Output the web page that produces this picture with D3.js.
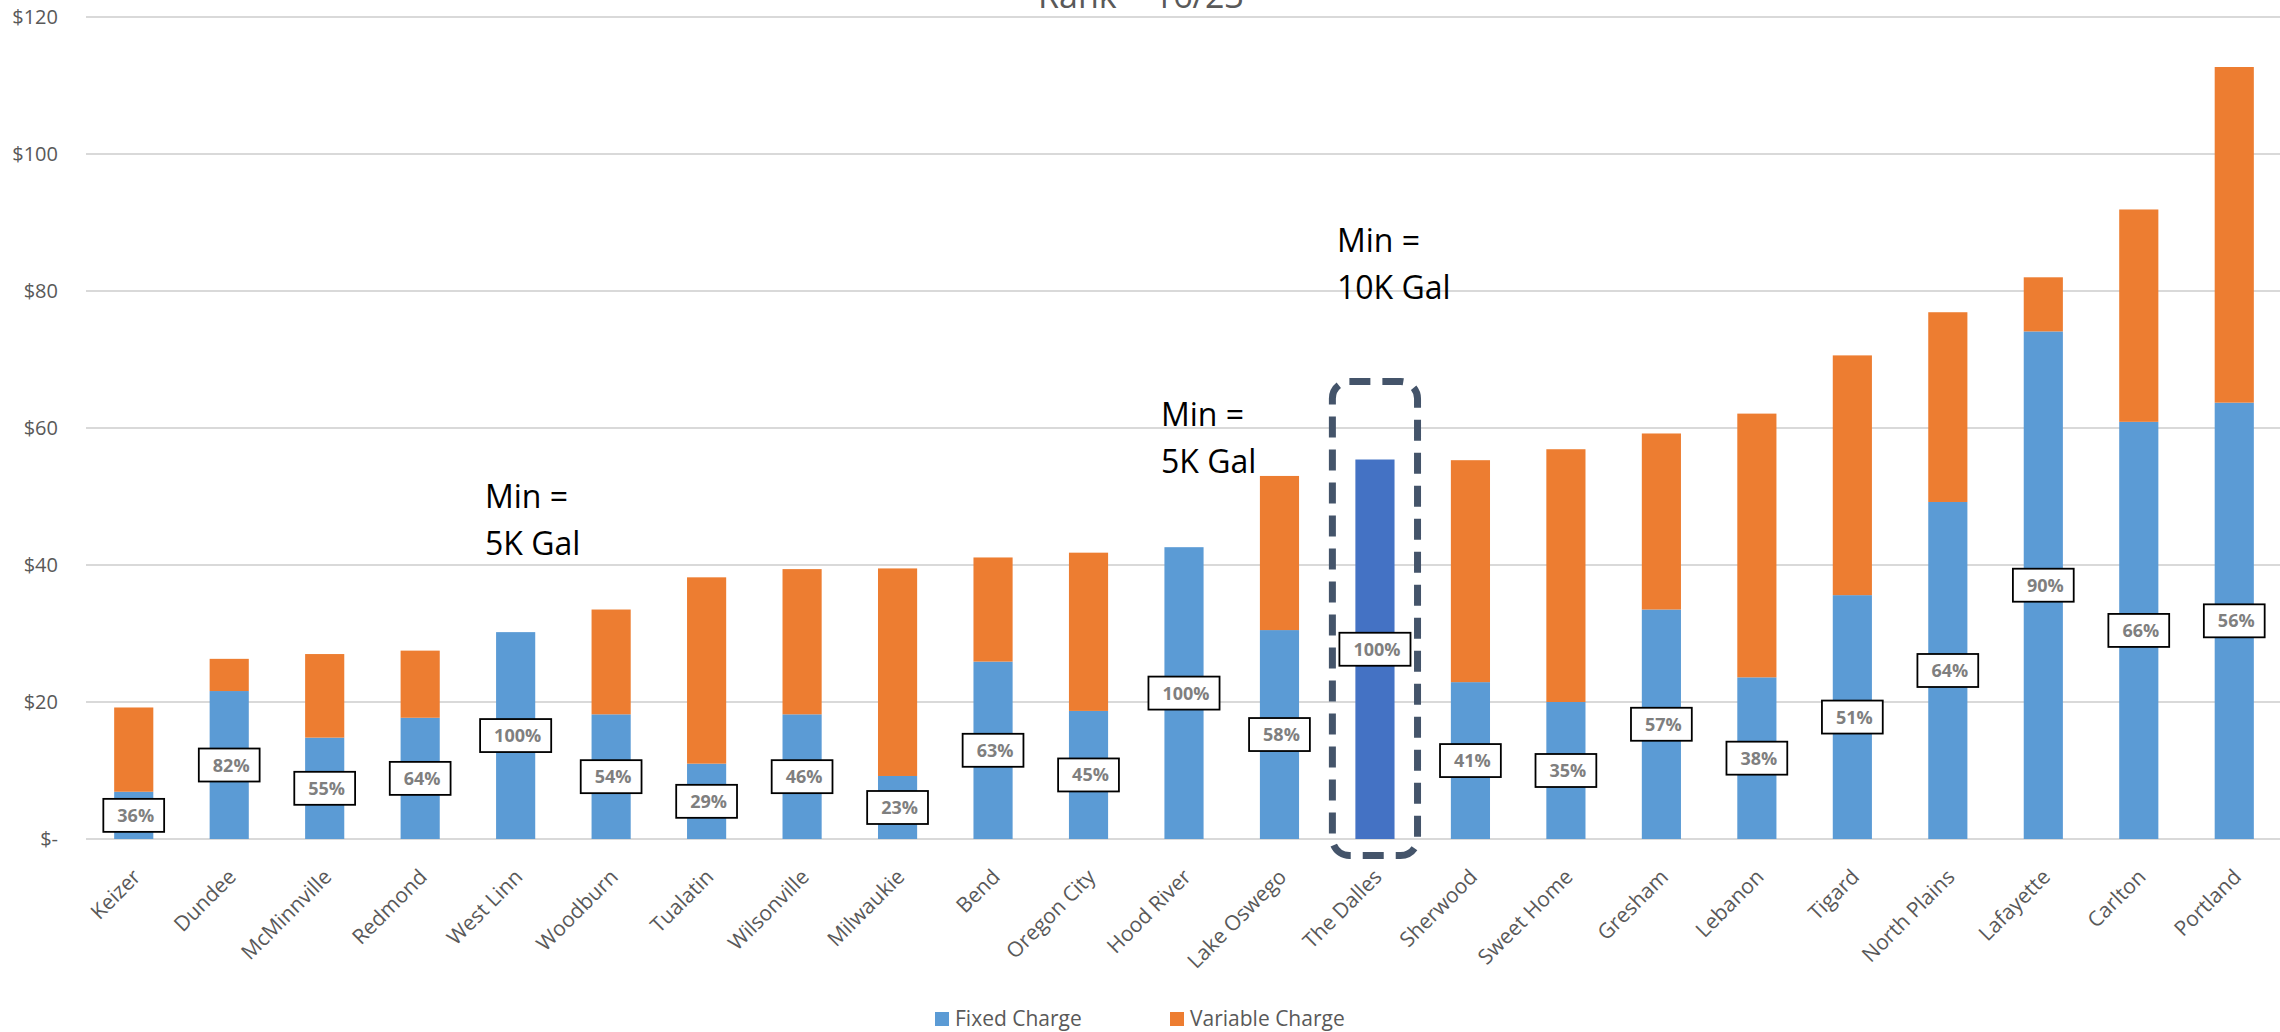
<!DOCTYPE html>
<html>
<head>
<meta charset="utf-8">
<script src="https://cdn.jsdelivr.net/npm/d3@7"></script>
<style>
  body { margin: 0; background: #fff; }
  svg { display: block; font-family: "Open Sans", "Noto Sans", sans-serif; }
</style>
</head>
<body>
<svg id="chart" width="2280" height="1032"></svg>
<script>
// monthly bill per city, split into fixed and variable parts
const cities = [
  "Keizer", "Dundee", "McMinnville", "Redmond", "West Linn", "Woodburn",
  "Tualatin", "Wilsonville", "Milwaukie", "Bend", "Oregon City", "Hood River",
  "Lake Oswego", "The Dalles", "Sherwood", "Sweet Home", "Gresham", "Lebanon",
  "Tigard", "North Plains", "Lafayette", "Carlton", "Portland"
];
const fixedCharge = [
  6.9, 21.6, 14.8, 17.7, 30.2, 18.2, 11.0, 18.2, 9.2, 25.9, 18.7, 42.6,
  30.5, 55.4, 22.9, 20.0, 33.5, 23.6, 35.6, 49.2, 74.1, 60.9, 63.7
];
const variableCharge = [
  12.3, 4.7, 12.2, 9.8, 0, 15.3, 27.2, 21.2, 30.3, 15.2, 23.1, 0,
  22.5, 0, 32.4, 36.9, 25.7, 38.5, 35.0, 27.7, 7.9, 31.0, 49.0
];
const fixedShare = [
  36, 82, 55, 64, 100, 54, 29, 46, 23, 63, 45, 100,
  58, 100, 41, 35, 57, 38, 51, 64, 90, 66, 56
];
const yTicks = [0, 20, 40, 60, 80, 100, 120];
const highlightCity = "The Dalles";
const seriesNames = ["Fixed Charge", "Variable Charge"];

const colors = { fixed: "#5b9bd5", variable: "#ed7d31", highlight: "#4472c4" };
const textGrey = "#595959";

const svg = d3.select("#chart");

const x = d3.scaleBand()
  .domain(cities)
  .range([86, 2282])
  .paddingInner(0.59)
  .paddingOuter(0.295);

const y = d3.scaleLinear()
  .domain([0, 120])
  .range([839, 17]);

const rows = cities.map((c, i) => ({
  city: c,
  fixed: fixedCharge[i],
  variable: variableCharge[i],
  share: fixedShare[i]
}));

// gridlines
svg.append("g")
  .selectAll("line")
  .data(yTicks)
  .join("line")
  .attr("x1", 86)
  .attr("x2", 2280)
  .attr("y1", d => y(d))
  .attr("y2", d => y(d))
  .attr("stroke", "#d9d9d9")
  .attr("stroke-width", 2);

// y axis labels
const yAxis = svg.append("g")
  .attr("transform", "translate(58,0)")
  .call(d3.axisLeft(y).tickValues(yTicks).tickSize(0).tickPadding(0)
    .tickFormat(d => d === 0 ? "$-" : "$" + d));
yAxis.select(".domain").remove();
yAxis.selectAll("text")
  .attr("font-family", "'Open Sans', sans-serif")
  .attr("font-size", 20)
  .attr("fill", textGrey);

// stacked bars
const stack = d3.stack().keys(["fixed", "variable"])(rows);

svg.append("g")
  .selectAll("g")
  .data(stack)
  .join("g")
  .selectAll("rect")
  .data(s => s.map(d => ({ key: s.key, d })))
  .join("rect")
  .attr("x", p => x(p.d.data.city))
  .attr("width", x.bandwidth())
  .attr("y", p => y(p.d[1]))
  .attr("height", p => y(p.d[0]) - y(p.d[1]))
  .attr("fill", p => {
    if (p.key === "variable") return colors.variable;
    return p.d.data.city === highlightCity ? colors.highlight : colors.fixed;
  });

// x axis labels
const xAxis = svg.append("g")
  .attr("transform", "translate(0,855)")
  .call(d3.axisBottom(x).tickSize(0).tickPadding(0));
xAxis.select(".domain").remove();
xAxis.selectAll("text")
  .attr("font-family", "'Open Sans', sans-serif")
  .attr("font-size", 21)
  .attr("fill", textGrey)
  .attr("text-anchor", "end")
  .attr("dy", "0.35em")
  .attr("transform", "translate(3,18) rotate(-45)");

// percentage labels in boxes, centred on fixed part
const labels = svg.append("g")
  .selectAll("g")
  .data(rows)
  .join("g")
  .attr("transform", d => `translate(${x(d.city) + x.bandwidth() / 2},${y(d.fixed / 2)})`);

labels.each(function(d) {
  const g = d3.select(this);
  const box = g.append("rect").attr("fill", "#fff").attr("stroke", "#000").attr("stroke-width", 1.8);
  const t = g.append("text")
    .attr("text-anchor", "middle")
    .attr("dy", "0.36em")
    .attr("x", 2)
    .attr("font-family", "'Open Sans', sans-serif")
    .attr("font-weight", "bold")
    .attr("font-size", 18)
    .attr("fill", "#7f7f7f")
    .text(d.share + "%");
  const w = t.node().getComputedTextLength() + 24;
  box.attr("x", -w / 2).attr("y", -16.5).attr("width", w).attr("height", 33);
});

// dashed highlight around The Dalles
const hi = rows[cities.indexOf(highlightCity)];
svg.append("rect")
  .attr("x", x(highlightCity) - 23)
  .attr("y", y(hi.fixed + hi.variable) - 78)
  .attr("width", x.bandwidth() + 46)
  .attr("height", y(0) + 16.5 - (y(hi.fixed + hi.variable) - 78))
  .attr("rx", 17)
  .attr("fill", "none")
  .attr("stroke", "#44546a")
  .attr("stroke-width", 7)
  .attr("stroke-dasharray", "21 12");

// annotations
const notes = [
  { x: 485, y: 508, lines: ["Min =", "5K Gal"] },
  { x: 1161, y: 426, lines: ["Min =", "5K Gal"] },
  { x: 1337, y: 252, lines: ["Min =", "10K Gal"] }
];
notes.forEach(n => {
  n.lines.forEach((l, i) => {
    svg.append("text")
      .attr("x", n.x)
      .attr("y", n.y + i * 46.5)
      .attr("font-family", "'Open Sans', sans-serif")
      .attr("font-size", 32)
      .attr("fill", "#000")
      .text(l);
  });
});

// title, cut off at the top
svg.append("text")
  .attr("x", 1141)
  .attr("y", 8)
  .attr("text-anchor", "middle")
  .attr("font-family", "'Open Sans', sans-serif")
  .attr("font-size", 34)
  .attr("fill", textGrey)
  .text("Rank = 16/23");

// legend
const legend = svg.append("g");
const legendX = [935, 1170];
seriesNames.forEach((name, i) => {
  legend.append("rect")
    .attr("x", legendX[i])
    .attr("y", 1012)
    .attr("width", 14)
    .attr("height", 14)
    .attr("fill", i === 0 ? colors.fixed : colors.variable);
  legend.append("text")
    .attr("x", legendX[i] + 20)
    .attr("y", 1026)
    .attr("font-family", "'Open Sans', sans-serif")
    .attr("font-size", 21)
    .attr("fill", textGrey)
    .text(name);
});
</script>
</body>
</html>
